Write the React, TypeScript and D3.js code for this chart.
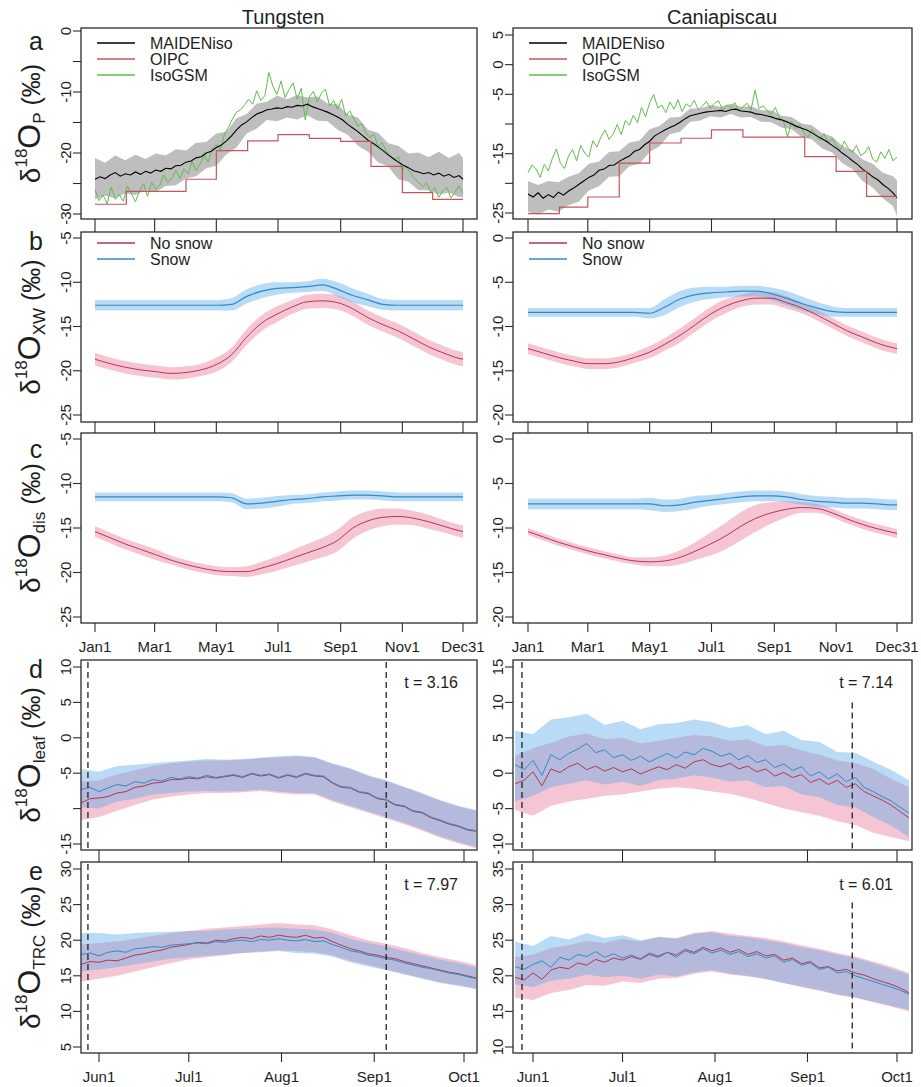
import React from 'react';
import * as d3 from 'd3';

const FONT = '"Liberation Sans", Arial, Helvetica, sans-serif';
const INK = '#2b2b2b';

// ---------- axis categories ----------
const yearTicks = [1, 60, 121, 182, 244, 305, 365];
const yearTickLabels = ['Jan1', 'Mar1', 'May1', 'Jul1', 'Sep1', 'Nov1', 'Dec31'];
const seasonTicks = [152, 182, 213, 244, 274];
const seasonTickLabels = ['Jun1', 'Jul1', 'Aug1', 'Sep1', 'Oct1'];
const monthStarts = [1, 32, 60, 91, 121, 152, 182, 213, 244, 274, 305, 335];

// ---------- panel a : d18O of precipitation ----------
// MAIDENiso, every 5 days
const tungMaiden = [-24.3, -23.9, -24.2, -23.6, -23.2, -23.8, -23.4, -23.6, -23.1, -23.5, -23.0, -23.3, -22.8, -23.0, -22.5, -22.6, -22.1, -22.0, -21.5, -21.3, -20.8, -20.6, -20.0, -19.7, -19.1, -18.7, -18.0, -17.2, -16.2, -15.4, -14.9, -14.2, -13.6, -13.3, -12.9, -12.8, -12.6, -12.7, -12.4, -12.5, -12.2, -12.3, -12.0, -12.4, -12.7, -13.0, -13.3, -13.7, -14.1, -14.6, -15.3, -15.9, -16.5, -17.2, -17.9, -18.4, -19.0, -19.6, -20.3, -20.9, -21.5, -22.0, -22.4, -22.9, -23.1, -23.4, -23.2, -23.6, -23.3, -23.8, -23.5, -24.0, -23.7, -24.3];
const caniMaiden = [-21.8, -22.3, -21.6, -22.5, -21.9, -22.4, -21.5, -22.0, -21.3, -20.8, -20.2, -19.6, -19.0, -18.6, -17.8, -17.6, -17.0, -16.9, -16.3, -15.8, -15.4, -14.6, -14.3, -13.5, -12.9, -12.0, -11.5, -11.0, -10.6, -10.2, -9.7, -9.1, -8.6, -8.4, -8.2, -8.0, -7.9, -7.8, -7.7, -7.9, -7.6, -7.5, -7.8, -7.9, -8.0, -8.3, -8.4, -8.6, -8.8, -9.1, -9.3, -9.6, -10.0, -10.4, -10.7, -11.0, -11.5, -12.0, -12.5, -13.0, -13.6, -14.2, -14.9, -15.5, -16.2, -16.8, -17.6, -18.2, -18.9, -19.4, -20.2, -20.8, -21.6, -22.4];
// MAIDENiso uncertainty envelope, every 10 days
const tungGreyHi = [-20.8, -21.6, -20.4, -21.2, -20.3, -21.0, -20.1, -20.4, -19.4, -19.6, -18.3, -18.2, -16.8, -16.5, -14.3, -13.6, -11.9, -11.6, -10.6, -11.2, -10.5, -10.9, -10.7, -11.9, -12.0, -13.7, -14.2, -16.2, -16.7, -18.4, -18.8, -20.1, -19.9, -20.7, -19.8, -20.8, -20.0, -20.8];
const tungGreyLo = [-27.6, -27.0, -27.4, -26.6, -26.9, -26.1, -26.4, -25.4, -25.3, -24.2, -23.8, -22.5, -22.1, -20.2, -19.1, -16.8, -16.0, -14.6, -14.8, -14.2, -14.5, -13.8, -14.7, -14.8, -16.2, -17.0, -18.8, -19.8, -21.5, -22.2, -24.3, -24.7, -26.1, -26.1, -26.8, -26.5, -27.2, -27.3];
const caniGreyHi = [-19.6, -20.3, -19.6, -19.8, -18.9, -18.3, -16.7, -16.3, -14.7, -14.6, -13.1, -12.8, -10.9, -10.3, -8.9, -8.8, -7.4, -7.4, -6.8, -7.1, -6.6, -7.1, -7.0, -7.7, -7.7, -8.6, -8.8, -9.9, -10.2, -11.5, -12.1, -13.7, -14.4, -16.0, -16.7, -18.2, -18.8, -19.5];
const caniGreyLo = [-24.8, -25.3, -24.4, -24.8, -23.7, -23.1, -21.2, -20.5, -18.9, -18.8, -17.1, -16.7, -14.7, -13.7, -11.7, -11.3, -9.6, -9.4, -8.7, -8.9, -8.3, -8.9, -8.8, -9.6, -9.7, -10.6, -10.9, -12.2, -12.6, -14.1, -14.8, -16.6, -17.6, -19.6, -20.7, -22.5, -23.8, -25.5];
// IsoGSM, every 4 days
const tungIsoGSM = [-26.0, -27.8, -26.9, -28.3, -25.6, -27.6, -26.8, -27.9, -25.4, -26.7, -28.0, -26.2, -25.0, -27.1, -24.8, -25.9, -25.3, -23.6, -24.9, -24.1, -22.8, -24.2, -22.6, -23.4, -21.4, -22.9, -21.8, -20.4, -21.5, -19.3, -18.6, -19.5, -16.9, -15.8, -14.4, -13.3, -12.9, -12.1, -11.2, -12.0, -9.8, -11.4, -10.6, -6.8, -9.1, -10.4, -8.2, -10.9, -9.6, -8.5, -11.2, -9.4, -14.6, -10.8, -9.9, -11.6, -10.2, -9.5, -12.3, -11.4, -12.8, -11.2, -13.9, -13.1, -14.4, -15.6, -15.2, -16.7, -17.5, -16.9, -19.0, -18.3, -19.6, -20.5, -21.2, -20.6, -22.9, -22.1, -23.3, -24.2, -24.8, -25.6, -24.9, -26.4, -25.7, -27.3, -26.2, -25.6, -27.4, -26.5, -25.4, -26.6];
const caniIsoGSM = [-18.2, -16.9, -17.6, -19.0, -16.8, -17.9, -15.8, -14.2, -16.6, -17.5, -15.4, -14.3, -16.2, -13.6, -14.9, -15.6, -12.8, -13.9, -12.2, -11.0, -12.6, -11.7, -10.1, -11.8, -9.4, -10.2, -8.5, -9.8, -7.2, -8.8, -6.4, -5.0, -7.3, -6.8, -8.1, -6.3, -7.5, -5.9, -7.9, -6.6, -7.1, -6.0, -7.6, -7.0, -6.2, -7.4, -6.5, -6.1, -7.6, -6.8, -7.3, -6.4, -7.8, -7.1, -6.5, -7.6, -4.3, -7.4, -6.9, -7.8, -8.4, -7.2, -8.9, -9.5, -12.2, -9.6, -10.8, -10.1, -11.4, -12.3, -10.9, -12.0, -12.7, -11.6, -13.2, -12.4, -13.6, -14.4, -12.9, -14.1, -14.8, -13.6, -15.3, -14.9, -13.8, -15.9, -16.4, -14.7, -15.8, -14.3, -16.2, -15.6];
// OIPC monthly means
const tungOIPC = [-28.4, -26.3, -26.3, -24.3, -19.6, -18.0, -17.0, -17.6, -18.1, -22.2, -26.5, -27.6];
const caniOIPC = [-25.1, -24.0, -22.3, -16.6, -13.2, -12.4, -11.0, -12.2, -12.2, -15.5, -18.0, -22.2];

// ---------- panels b, c : xylem water and discharge (every 15 days) ----------
const tungXwSnow = [-12.6, -12.6, -12.6, -12.6, -12.6, -12.6, -12.6, -12.6, -12.6, -12.5, -11.6, -11.0, -10.7, -10.6, -10.5, -10.3, -10.8, -11.5, -12.0, -12.5, -12.6, -12.6, -12.6, -12.6, -12.6, -12.6];
const tungXwSnowSd = [0.6, 0.6, 0.6, 0.6, 0.6, 0.6, 0.6, 0.6, 0.6, 0.7, 0.8, 0.8, 0.7, 0.6, 0.6, 0.7, 0.8, 0.8, 0.7, 0.6, 0.6, 0.6, 0.6, 0.6, 0.6, 0.6];
const tungXwNoSnow = [-18.7, -19.2, -19.6, -19.9, -20.1, -20.3, -20.2, -19.9, -19.3, -18.2, -16.2, -14.6, -13.6, -12.8, -12.2, -12.1, -12.3, -13.0, -14.0, -14.8, -15.5, -16.4, -17.3, -18.0, -18.6, -18.7];
const tungXwNoSnowSd = [0.7, 0.7, 0.7, 0.7, 0.7, 0.7, 0.7, 0.7, 0.8, 0.8, 0.9, 0.9, 0.9, 0.8, 0.8, 0.8, 0.8, 0.8, 0.8, 0.8, 0.8, 0.8, 0.8, 0.8, 0.8, 0.8];
const caniXwSnow = [-8.4, -8.4, -8.4, -8.4, -8.4, -8.4, -8.4, -8.4, -8.5, -7.8, -6.9, -6.4, -6.2, -6.1, -6.0, -6.0, -6.3, -6.8, -7.4, -7.9, -8.3, -8.4, -8.4, -8.4, -8.4, -8.4];
const caniXwSnowSd = [0.5, 0.5, 0.5, 0.5, 0.5, 0.5, 0.5, 0.5, 0.6, 0.9, 0.9, 0.8, 0.7, 0.6, 0.6, 0.6, 0.7, 0.8, 0.8, 0.7, 0.6, 0.5, 0.5, 0.5, 0.5, 0.5];
const caniXwNoSnow = [-12.5, -13.0, -13.5, -13.9, -14.2, -14.2, -14.0, -13.5, -12.9, -12.0, -11.0, -9.8, -8.6, -7.7, -7.1, -6.8, -6.8, -7.3, -7.9, -8.7, -9.6, -10.5, -11.2, -11.9, -12.4, -12.5];
const caniXwNoSnowSd = [0.6, 0.6, 0.6, 0.6, 0.6, 0.6, 0.6, 0.6, 0.7, 0.7, 0.8, 0.8, 0.8, 0.8, 0.7, 0.7, 0.7, 0.7, 0.6, 0.6, 0.6, 0.6, 0.6, 0.6, 0.6, 0.6];

const tungDisSnow = [-11.5, -11.5, -11.5, -11.5, -11.5, -11.5, -11.5, -11.5, -11.5, -11.6, -12.3, -12.2, -12.0, -11.8, -11.7, -11.5, -11.4, -11.3, -11.3, -11.4, -11.5, -11.5, -11.5, -11.5, -11.5, -11.5];
const tungDisSnowSd = [0.5, 0.5, 0.5, 0.5, 0.5, 0.5, 0.5, 0.5, 0.5, 0.5, 0.6, 0.6, 0.6, 0.5, 0.5, 0.5, 0.5, 0.5, 0.5, 0.5, 0.5, 0.5, 0.5, 0.5, 0.5, 0.5];
const tungDisNoSnow = [-15.4, -16.1, -16.8, -17.4, -18.0, -18.6, -19.1, -19.5, -19.8, -19.9, -19.9, -19.5, -19.0, -18.4, -17.8, -17.2, -16.4, -15.0, -14.2, -13.8, -13.7, -13.9, -14.3, -14.8, -15.3, -15.4];
const tungDisNoSnowSd = [0.6, 0.6, 0.6, 0.6, 0.6, 0.5, 0.5, 0.5, 0.5, 0.5, 0.6, 0.7, 0.8, 0.9, 1.0, 1.1, 1.2, 1.2, 1.1, 1.0, 0.9, 0.8, 0.8, 0.7, 0.7, 0.7];
const caniDisSnow = [-7.3, -7.3, -7.3, -7.3, -7.3, -7.3, -7.3, -7.3, -7.3, -7.5, -7.4, -7.1, -6.9, -6.7, -6.5, -6.4, -6.4, -6.5, -6.8, -7.0, -7.1, -7.2, -7.2, -7.3, -7.4, -7.4];
const caniDisSnowSd = [0.6, 0.6, 0.6, 0.6, 0.6, 0.6, 0.6, 0.6, 0.7, 0.7, 0.7, 0.7, 0.6, 0.6, 0.6, 0.6, 0.6, 0.6, 0.6, 0.6, 0.6, 0.6, 0.6, 0.6, 0.6, 0.6];
const caniDisNoSnow = [-10.4, -11.0, -11.6, -12.1, -12.6, -13.0, -13.4, -13.7, -13.8, -13.7, -13.3, -12.6, -11.8, -10.9, -9.8, -8.9, -8.3, -7.9, -7.7, -7.8, -8.3, -9.0, -9.6, -10.1, -10.5, -10.6];
const caniDisNoSnowSd = [0.4, 0.4, 0.4, 0.4, 0.4, 0.4, 0.4, 0.4, 0.5, 0.6, 0.8, 1.0, 1.3, 1.5, 1.6, 1.5, 1.2, 0.9, 0.6, 0.5, 0.5, 0.5, 0.5, 0.5, 0.5, 0.5];

// ---------- panels d, e : leaf water and tree-ring cellulose (lines every 3 days, bands every 6 days) ----------
const tungLeafSnow = [-7.3, -7.0, -7.6, -7.1, -6.6, -6.8, -6.2, -6.4, -5.9, -6.1, -5.6, -5.8, -5.5, -5.7, -5.3, -5.6, -5.4, -5.2, -5.5, -5.0, -5.3, -5.1, -5.6, -5.2, -5.5, -5.0, -5.3, -5.4, -6.3, -6.9, -7.0, -7.6, -7.8, -8.5, -8.7, -9.4, -9.6, -10.3, -10.5, -11.2, -11.6, -12.1, -12.4, -12.9, -13.1];
const tungLeafNoSnow = [-9.2, -8.6, -8.5, -8.3, -7.8, -7.6, -7.0, -6.8, -6.4, -6.3, -5.9, -5.9, -5.7, -5.8, -5.5, -5.7, -5.5, -5.3, -5.6, -5.1, -5.4, -5.2, -5.7, -5.3, -5.6, -5.1, -5.4, -5.5, -6.4, -7.0, -7.1, -7.7, -7.9, -8.6, -8.8, -9.5, -9.7, -10.4, -10.6, -11.3, -11.7, -12.2, -12.5, -13.0, -13.2];
const tungLeafSnowHi = [-4.4, -4.8, -4.0, -3.8, -3.6, -3.4, -3.2, -3.0, -3.1, -3.0, -2.8, -2.6, -2.5, -2.7, -3.6, -4.3, -5.3, -6.0, -6.9, -7.8, -8.8, -9.6, -10.2];
const tungLeafSnowLo = [-9.8, -10.0, -9.0, -8.6, -8.0, -7.8, -7.6, -7.5, -7.6, -7.5, -7.3, -7.6, -7.8, -7.8, -8.8, -9.6, -10.4, -11.2, -12.0, -12.9, -13.9, -14.7, -15.4];
const tungLeafNoSnowHi = [-6.2, -6.0, -5.2, -4.6, -4.0, -3.6, -3.4, -3.2, -3.2, -3.1, -2.9, -2.8, -2.6, -2.8, -3.7, -4.4, -5.4, -6.1, -7.0, -7.9, -8.9, -9.7, -10.3];
const tungLeafNoSnowLo = [-11.6, -11.2, -10.3, -9.5, -8.7, -8.3, -8.0, -7.8, -7.8, -7.7, -7.5, -7.8, -8.0, -8.0, -9.0, -9.8, -10.6, -11.4, -12.2, -13.1, -14.1, -14.9, -15.6];

const caniLeafSnow = [1.2, 0.5, 1.8, -0.3, 2.6, 1.9, 2.8, 3.4, 4.2, 2.9, 3.3, 2.2, 2.6, 1.8, 2.4, 1.6, 2.2, 2.8, 2.1, 3.0, 2.6, 3.5, 3.1, 2.4, 2.8, 1.9, 2.5, 1.5, 1.9, 0.8, 1.3, 0.4, 0.9, -0.4, 0.2, -0.8, -0.1, -1.2, -0.6, -2.0, -2.6, -3.3, -3.9, -4.8, -5.6];
const caniLeafNoSnow = [-1.5, -1.0, 0.2, -1.8, 0.6, 0.1, 0.9, 1.4, 0.5, 1.0, 0.3, 0.8, 0.2, 0.6, -0.1, 0.4, 0.9, 0.5, 1.2, 0.7, 1.6, 1.9, 1.2, 0.9, 1.4, 0.6, 1.0, 0.2, 0.6, -0.4, 0.1, -0.6, -0.2, -1.3, -0.8, -1.6, -1.0, -2.0, -1.5, -2.6, -3.2, -3.8, -4.5, -5.4, -6.3];
const caniLeafSnowHi = [6.0, 5.5, 7.6, 7.9, 8.4, 6.8, 7.4, 6.2, 6.9, 7.1, 7.6, 7.2, 6.4, 6.8, 5.5, 6.0, 4.7, 4.4, 3.0, 2.9, 1.6, 0.5, -1.0];
const caniLeafSnowLo = [-4.0, -3.2, -2.0, -1.5, -1.0, -1.6, -1.2, -1.8, -1.0, -0.8, -0.3, -0.6, -1.2, -1.0, -2.0, -1.8, -3.0, -3.4, -4.5, -4.8, -6.2, -7.4, -9.0];
const caniLeafNoSnowHi = [2.5, 3.5, 4.3, 5.2, 5.6, 4.8, 5.0, 4.2, 4.6, 5.0, 5.4, 5.2, 4.6, 4.8, 3.8, 4.0, 3.2, 2.6, 1.8, 1.4, 0.6, -0.8, -2.0];
const caniLeafNoSnowLo = [-5.2, -6.0, -4.6, -4.0, -3.6, -3.2, -3.0, -2.6, -2.2, -2.0, -2.2, -2.6, -2.9, -3.5, -4.2, -5.0, -5.5, -6.0, -6.8, -7.3, -8.4, -9.0, -9.6];

const tungTrcSnow = [18.0, 18.2, 17.8, 18.3, 18.5, 18.3, 18.8, 18.9, 19.1, 19.0, 19.3, 19.4, 19.5, 19.6, 19.5, 19.8, 19.7, 19.9, 20.0, 19.8, 20.1, 20.0, 20.2, 20.0, 19.9, 20.1, 19.8, 19.9, 19.4, 19.0, 18.5, 18.3, 17.9, 17.7, 17.4, 17.2, 16.8, 16.5, 16.2, 16.0, 15.7, 15.4, 15.2, 14.9, 14.6];
const tungTrcNoSnow = [16.6, 17.0, 16.9, 17.2, 17.1, 17.5, 17.9, 18.1, 18.4, 18.6, 19.0, 19.2, 19.4, 19.7, 19.6, 20.0, 19.9, 20.2, 20.4, 20.2, 20.6, 20.4, 20.7, 20.5, 20.4, 20.7, 20.3, 20.4, 19.8, 19.3, 18.8, 18.5, 18.1, 17.9, 17.6, 17.4, 17.0, 16.7, 16.4, 16.1, 15.8, 15.5, 15.3, 15.0, 14.7];
const tungTrcSnowHi = [21.0, 21.0, 20.8, 21.0, 21.1, 21.2, 21.3, 21.3, 21.5, 21.6, 21.7, 21.8, 21.6, 21.5, 21.0, 20.2, 19.6, 19.1, 18.5, 17.9, 17.3, 16.8, 16.2];
const tungTrcSnowLo = [15.6, 15.9, 16.2, 16.6, 17.0, 17.4, 17.6, 17.8, 18.0, 18.2, 18.3, 18.5, 18.2, 18.1, 17.7, 16.9, 16.3, 15.8, 15.2, 14.6, 14.0, 13.6, 13.1];
const tungTrcNoSnowHi = [19.4, 19.6, 19.8, 20.2, 20.6, 21.0, 21.3, 21.6, 21.8, 22.0, 22.2, 22.4, 22.2, 22.1, 21.5, 20.7, 20.0, 19.5, 18.9, 18.2, 17.6, 17.1, 16.5];
const tungTrcNoSnowLo = [14.2, 14.6, 15.0, 15.6, 16.2, 16.8, 17.3, 17.6, 17.9, 18.2, 18.4, 18.6, 18.5, 18.3, 17.9, 17.1, 16.5, 15.9, 15.3, 14.7, 14.1, 13.7, 13.2];

const caniTrcSnow = [21.3, 20.9, 21.6, 22.1, 21.2, 22.6, 22.2, 23.0, 22.7, 23.4, 22.6, 23.1, 22.5, 22.9, 22.4, 23.2, 22.8, 23.3, 22.6, 23.5, 23.1, 23.8, 23.2, 23.6, 23.0, 23.4, 22.7, 23.1, 22.5, 22.8, 21.9, 22.3, 21.5, 21.8, 20.9, 21.2, 20.4, 20.6, 20.0, 19.6, 19.2, 18.8, 18.4, 18.0, 17.4];
const caniTrcNoSnow = [19.8, 19.4, 20.4, 19.5, 20.8, 21.2, 21.0, 21.8, 21.5, 22.3, 21.9, 22.5, 22.2, 22.7, 22.3, 23.0, 22.6, 23.3, 22.9, 23.7, 23.3, 24.0, 23.5, 23.9, 23.3, 23.7, 23.0, 23.4, 22.8, 23.0, 22.2, 22.5, 21.7, 22.0, 21.1, 21.3, 20.7, 20.9, 20.4, 20.1, 19.6, 19.2, 18.8, 18.3, 17.6];
const caniTrcSnowHi = [24.8, 24.2, 25.6, 25.1, 26.0, 25.3, 25.7, 25.0, 25.5, 25.2, 25.9, 26.1, 25.6, 25.4, 25.0, 24.6, 24.0, 23.6, 23.0, 22.5, 21.8, 21.0, 20.2];
const caniTrcSnowLo = [18.8, 18.4, 19.3, 19.6, 20.2, 19.8, 20.0, 19.6, 20.2, 19.9, 20.5, 20.8, 20.3, 20.0, 19.6, 19.0, 18.5, 18.0, 17.4, 17.0, 16.4, 15.8, 15.2];
const caniTrcNoSnowHi = [22.6, 23.0, 23.9, 24.3, 24.9, 24.6, 25.2, 24.8, 25.4, 25.3, 26.0, 26.3, 25.9, 25.6, 25.3, 24.8, 24.3, 23.8, 23.2, 22.7, 22.0, 21.3, 20.4];
const caniTrcNoSnowLo = [16.9, 16.6, 17.6, 18.0, 18.7, 18.6, 19.2, 19.0, 19.6, 19.7, 20.3, 20.6, 20.2, 19.9, 19.5, 19.0, 18.4, 17.9, 17.3, 16.9, 16.3, 15.7, 15.0];

// growing-season window (days) and t statistics
const tungWindow = [148.3, 248];
const caniWindow = [148.3, 259];
const tungTStats = ['t = 3.16', 't = 7.97'];
const caniTStats = ['t = 7.14', 't = 6.01'];

// ---------- layout ----------
const COLORS = {
  grey: '#bebebe',
  oipc: '#c5565c',
  iso: '#5fbd4c',
  red: '#b5364f',
  blue: '#2f8cc6',
  pinkBand: 'rgba(232,110,145,0.40)',
  blueBand: 'rgba(90,170,230,0.42)',
};

const ROWS = {
  a: { y0: 28, y1: 219, tickEnd: 232 },
  b: { y0: 232, y1: 422, tickEnd: 433 },
  c: { y0: 433, y1: 623, tickEnd: 632, labelY: 652 },
  d: { y0: 660, y1: 850, tickEnd: 862 },
  e: { y0: 862, y1: 1053, tickEnd: 1062, labelY: 1082 },
};

const SITES = [
  {
    key: 'tung', name: 'Tungsten', x0: 81, x1: 477, yearPx: [95, 463], seasonPx: [99, 464], titleX: 283,
    maiden: tungMaiden, greyHi: tungGreyHi, greyLo: tungGreyLo, iso: tungIsoGSM, oipc: tungOIPC,
    xw: [tungXwNoSnow, tungXwNoSnowSd, tungXwSnow, tungXwSnowSd],
    dis: [tungDisNoSnow, tungDisNoSnowSd, tungDisSnow, tungDisSnowSd],
    leaf: [tungLeafNoSnow, tungLeafNoSnowLo, tungLeafNoSnowHi, tungLeafSnow, tungLeafSnowLo, tungLeafSnowHi],
    trc: [tungTrcNoSnow, tungTrcNoSnowLo, tungTrcNoSnowHi, tungTrcSnow, tungTrcSnowLo, tungTrcSnowHi],
    window: tungWindow, tStats: tungTStats, dashTop: [null, null],
    axes: {
      a: { dom: [0, -30], px: [31, 214], ticks: [0, -5, -10, -15, -20, -25, -30], labels: [0, -10, -20, -30] },
      b: { dom: [-5, -25], px: [238, 415], ticks: [-5, -10, -15, -20, -25], labels: [-5, -10, -15, -20, -25] },
      c: { dom: [-5, -25], px: [439, 617], ticks: [-5, -10, -15, -20, -25], labels: [-5, -10, -15, -20, -25] },
      d: { dom: [10, -15], px: [667, 844], ticks: [10, 5, 0, -5, -10, -15], labels: [10, 5, 0, -5, -15] },
      e: { dom: [30, 5], px: [869, 1047], ticks: [30, 25, 20, 15, 10, 5], labels: [30, 25, 20, 15, 10, 5] },
    },
  },
  {
    key: 'cani', name: 'Caniapiscau', x0: 513, x1: 912, yearPx: [528, 897], seasonPx: [533, 897], titleX: 722,
    maiden: caniMaiden, greyHi: caniGreyHi, greyLo: caniGreyLo, iso: caniIsoGSM, oipc: caniOIPC,
    xw: [caniXwNoSnow, caniXwNoSnowSd, caniXwSnow, caniXwSnowSd],
    dis: [caniDisNoSnow, caniDisNoSnowSd, caniDisSnow, caniDisSnowSd],
    leaf: [caniLeafNoSnow, caniLeafNoSnowLo, caniLeafNoSnowHi, caniLeafSnow, caniLeafSnowLo, caniLeafSnowHi],
    trc: [caniTrcNoSnow, caniTrcNoSnowLo, caniTrcNoSnowHi, caniTrcSnow, caniTrcSnowLo, caniTrcSnowHi],
    window: caniWindow, tStats: caniTStats, dashTop: [10, 30.3],
    axes: {
      a: { dom: [5, -25], px: [35, 213], ticks: [5, 0, -5, -10, -15, -20, -25], labels: [5, 0, -5, -15, -25] },
      b: { dom: [0, -20], px: [238, 415], ticks: [0, -5, -10, -15, -20], labels: [0, -5, -10, -15, -20] },
      c: { dom: [0, -20], px: [439, 617], ticks: [0, -5, -10, -15, -20], labels: [0, -5, -10, -15, -20] },
      d: { dom: [15, -10], px: [667, 844], ticks: [15, 10, 5, 0, -5, -10], labels: [15, 10, 5, 0, -5, -10] },
      e: { dom: [35, 10], px: [869, 1047], ticks: [35, 30, 25, 20, 15, 10], labels: [35, 30, 25, 20, 15, 10] },
    },
  },
];

const dayGrid = (n: number, start: number, step: number, end: number) =>
  d3.range(n).map(i => Math.min(start + step * i, end));

function Frame({ site, row, y, xs, xTicks, xLabels }: any) {
  const r = ROWS[row];
  const ax = site.axes[row];
  return (
    <g>
      {ax.ticks.map((t: number) => (
        <g key={'y' + t}>
          <line x1={site.x0 - 8} x2={site.x0} y1={y(t)} y2={y(t)} stroke={INK} strokeWidth={1.1} />
          {ax.labels.includes(t) && (
            <text transform={`translate(${site.x0 - 10},${y(t)}) rotate(-90)`} textAnchor="middle" fontSize={15}>
              {t}
            </text>
          )}
        </g>
      ))}
      {xTicks.map((t: number, i: number) => (
        <g key={'x' + t}>
          <line x1={xs(t)} x2={xs(t)} y1={r.y1} y2={r.tickEnd} stroke={INK} strokeWidth={1.1} />
          {r.labelY && (
            <text x={xs(t)} y={r.labelY} textAnchor="middle" fontSize={15}>
              {xLabels[i]}
            </text>
          )}
        </g>
      ))}
      <rect x={site.x0} y={r.y0} width={site.x1 - site.x0} height={r.y1 - r.y0} fill="none" stroke={INK} strokeWidth={1.3} />
    </g>
  );
}

function Legend({ x, y, items }: any) {
  return (
    <g>
      {items.map((it: any, i: number) => (
        <g key={it.label}>
          <line x1={x} x2={x + 38} y1={y + i * 16} y2={y + i * 16} stroke={it.color} strokeWidth={1.3} />
          <text x={x + 53} y={y + i * 16 + 6} fontSize={16}>{it.label}</text>
        </g>
      ))}
    </g>
  );
}

function yScale(site: any, row: string) {
  const ax = site.axes[row];
  return d3.scaleLinear().domain(ax.dom).range(ax.px);
}

function PrecipPanel({ site }: any) {
  const x = d3.scaleLinear().domain([1, 365]).range(site.yearPx);
  const y = yScale(site, 'a');
  const r = ROWS.a;
  const d5 = dayGrid(site.maiden.length, 1, 5, 365);
  const d10 = dayGrid(site.greyHi.length, 1, 10, 365);
  const d4 = dayGrid(site.iso.length, 1, 4, 365);
  const band = d3.area<number>().x((_, i) => x(d10[i])).y0((_, i) => y(site.greyLo[i])).y1((_, i) => y(site.greyHi[i]));
  const mLine = d3.line<number>().x((_, i) => x(d5[i])).y(v => y(v));
  const iLine = d3.line<number>().x((_, i) => x(d4[i])).y(v => y(v));
  const steps: [number, number][] = site.oipc.map((v: number, i: number) => [monthStarts[i], v]);
  steps.push([365, site.oipc[site.oipc.length - 1]]);
  const oLine = d3.line<[number, number]>().x(d => x(d[0])).y(d => y(d[1])).curve(d3.curveStepAfter);
  const clip = `clip-${site.key}-a`;
  return (
    <g>
      <clipPath id={clip}><rect x={site.x0} y={r.y0} width={site.x1 - site.x0} height={r.y1 - r.y0} /></clipPath>
      <g clipPath={`url(#${clip})`}>
        <path d={band(site.greyHi) || ''} fill={COLORS.grey} stroke="none" />
        <path d={iLine(site.iso) || ''} fill="none" stroke={COLORS.iso} strokeWidth={1} />
        <path d={mLine(site.maiden) || ''} fill="none" stroke="#000" strokeWidth={1.1} />
        <path d={oLine(steps) || ''} fill="none" stroke={COLORS.oipc} strokeWidth={1.2} />
      </g>
      <Legend x={site.x0 + 16} y={43} items={[
        { label: 'MAIDENiso', color: '#000' },
        { label: 'OIPC', color: COLORS.oipc },
        { label: 'IsoGSM', color: COLORS.iso },
      ]} />
      <Frame site={site} row="a" y={y} xs={x} xTicks={yearTicks} xLabels={yearTickLabels} />
    </g>
  );
}

function SmoothPanel({ site, row, series, legend }: any) {
  const x = d3.scaleLinear().domain([1, 365]).range(site.yearPx);
  const y = yScale(site, row);
  const r = ROWS[row];
  const [noSnow, noSnowSd, snow, snowSd] = series;
  const days = dayGrid(noSnow.length, 1, 15, 365);
  const area = (vals: number[], sd: number[]) =>
    d3.area<number>().x((_, i) => x(days[i])).y0((v, i) => y(v - sd[i])).y1((v, i) => y(v + sd[i])).curve(d3.curveMonotoneX)(vals) || '';
  const line = d3.line<number>().x((_, i) => x(days[i])).y(v => y(v)).curve(d3.curveMonotoneX);
  const clip = `clip-${site.key}-${row}`;
  return (
    <g>
      <clipPath id={clip}><rect x={site.x0} y={r.y0} width={site.x1 - site.x0} height={r.y1 - r.y0} /></clipPath>
      <g clipPath={`url(#${clip})`}>
        <path d={area(noSnow, noSnowSd)} fill={COLORS.pinkBand} />
        <path d={area(snow, snowSd)} fill={COLORS.blueBand} />
        <path d={line(noSnow) || ''} fill="none" stroke={COLORS.red} strokeWidth={1} />
        <path d={line(snow) || ''} fill="none" stroke={COLORS.blue} strokeWidth={1.2} />
      </g>
      {legend && (
        <Legend x={site.x0 + 16} y={243} items={[
          { label: 'No snow', color: COLORS.red },
          { label: 'Snow', color: COLORS.blue },
        ]} />
      )}
      <Frame site={site} row={row} y={y} xs={x} xTicks={yearTicks} xLabels={yearTickLabels} />
    </g>
  );
}

function SeasonPanel({ site, row, series, tLabel, dashTop }: any) {
  const x = d3.scaleLinear().domain([152, 274]).range(site.seasonPx);
  const y = yScale(site, row);
  const r = ROWS[row];
  const [noSnow, noSnowLo, noSnowHi, snow, snowLo, snowHi] = series;
  const d3d = dayGrid(noSnow.length, 146, 3, 278);
  const d6 = dayGrid(noSnowLo.length, 146, 6, 278);
  const area = (lo: number[], hi: number[]) =>
    d3.area<number>().x((_, i) => x(d6[i])).y0((v) => y(v)).y1((_, i) => y(hi[i]))(lo) || '';
  const line = d3.line<number>().x((_, i) => x(d3d[i])).y(v => y(v));
  const clip = `clip-${site.key}-${row}`;
  const [w0, w1] = site.window;
  return (
    <g>
      <clipPath id={clip}><rect x={site.x0} y={r.y0} width={site.x1 - site.x0} height={r.y1 - r.y0} /></clipPath>
      <g clipPath={`url(#${clip})`}>
        <path d={area(noSnowLo, noSnowHi)} fill={COLORS.pinkBand} />
        <path d={area(snowLo, snowHi)} fill={COLORS.blueBand} />
        <path d={line(noSnow) || ''} fill="none" stroke={COLORS.red} strokeWidth={1} />
        <path d={line(snow) || ''} fill="none" stroke={COLORS.blue} strokeWidth={1} />
      </g>
      <line x1={x(w0)} x2={x(w0)} y1={r.y0 + 2} y2={r.y1} stroke="#222" strokeWidth={1.3} strokeDasharray="6,4" />
      <line x1={x(w1)} x2={x(w1)} y1={dashTop == null ? r.y0 + 2 : y(dashTop)} y2={r.y1} stroke="#222" strokeWidth={1.3} strokeDasharray="6,4" />
      <text x={site.x1 - 19} y={r.y0 + 28} textAnchor="end" fontSize={16}>{tLabel}</text>
      <Frame site={site} row={row} y={y} xs={x} xTicks={seasonTicks} xLabels={seasonTickLabels} />
    </g>
  );
}

function YLabel({ cy, sub }: any) {
  return (
    <text transform={`translate(40,${cy}) rotate(-90)`} textAnchor="middle">
      <tspan fontSize={28}>δ</tspan>
      <tspan fontSize={17} dy={-13}>18</tspan>
      <tspan fontSize={32} dy={13}>O</tspan>
      <tspan fontSize={17} dy={5}>{sub}</tspan>
      <tspan fontSize={25} dy={-5}>{'\u00a0(‰)'}</tspan>
    </text>
  );
}

const rowLetters = [
  { row: 'a', y: 50, sub: 'P' },
  { row: 'b', y: 250, sub: 'XW' },
  { row: 'c', y: 458, sub: 'dis' },
  { row: 'd', y: 678, sub: 'leaf' },
  { row: 'e', y: 880, sub: 'TRC' },
];

export default function App() {
  return (
    <svg width={921} height={1087} style={{ position: 'absolute', left: 0, top: 0, display: 'block' }}
      fontFamily={FONT} fill="#1e1e1e">
      <rect width={921} height={1087} fill="#fff" />
      {SITES.map(site => (
        <g key={site.key}>
          <text x={site.titleX} y={24} textAnchor="middle" fontSize={20}>{site.name}</text>
          <PrecipPanel site={site} />
          <SmoothPanel site={site} row="b" series={site.xw} legend />
          <SmoothPanel site={site} row="c" series={site.dis} />
          <SeasonPanel site={site} row="d" series={site.leaf} tLabel={site.tStats[0]} dashTop={site.dashTop[0]} />
          <SeasonPanel site={site} row="e" series={site.trc} tLabel={site.tStats[1]} dashTop={site.dashTop[1]} />
        </g>
      ))}
      {rowLetters.map(l => (
        <g key={l.row}>
          <text x={36} y={l.y} textAnchor="middle" fontSize={25}>{l.row}</text>
          <YLabel cy={(ROWS[l.row].y0 + ROWS[l.row].y1) / 2} sub={l.sub} />
        </g>
      ))}
    </svg>
  );
}
